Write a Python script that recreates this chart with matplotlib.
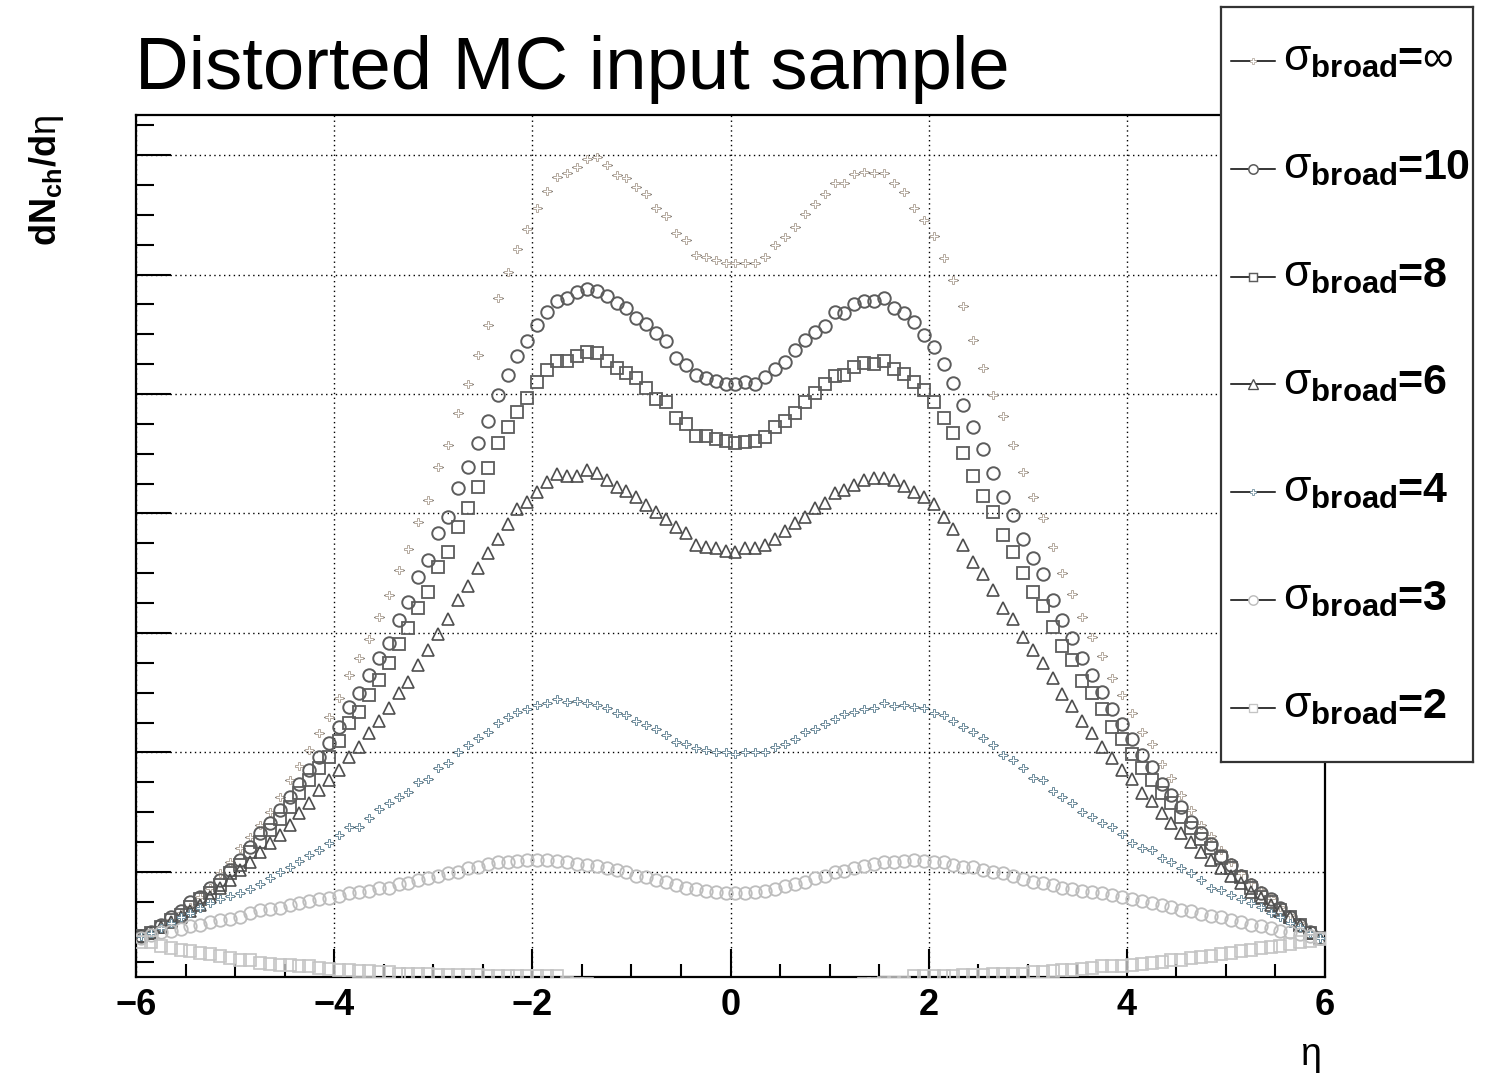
import numpy as np
import matplotlib
matplotlib.use("Agg")
import matplotlib.pyplot as plt
from matplotlib.ticker import MultipleLocator

plt.rcParams['font.family'] = ['Liberation Sans', 'DejaVu Sans']
plt.rcParams['mathtext.fontset'] = 'custom'
plt.rcParams['mathtext.rm'] = 'Liberation Sans'
plt.rcParams['mathtext.bf'] = 'Liberation Sans:bold'
plt.rcParams['mathtext.it'] = 'Liberation Sans:italic'

# 120 eta bins from -6 to 6
eta_edges = np.linspace(-6, 6, 121)
eta = 0.5 * (eta_edges[:-1] + eta_edges[1:])
half_bin = 0.5 * (eta_edges[1] - eta_edges[0])

# dN/deta (arbitrary units, grid lines at 1..7)
sig_inf = [0.46, 0.50, 0.54, 0.60, 0.66, 0.71, 0.79, 0.87, 0.99, 1.08,
           1.20, 1.29, 1.39, 1.50, 1.63, 1.77, 1.89, 2.02, 2.16, 2.30,
           2.46, 2.65, 2.79, 2.95, 3.13, 3.32, 3.53, 3.70, 3.93, 4.11,
           4.39, 4.57, 4.84, 5.08, 5.33, 5.58, 5.80, 6.02, 6.21, 6.38,
           6.56, 6.70, 6.82, 6.85, 6.90, 6.97, 6.98, 6.92, 6.83, 6.81,
           6.73, 6.67, 6.56, 6.49, 6.35, 6.29, 6.16, 6.15, 6.12, 6.10,
           6.10, 6.10, 6.10, 6.15, 6.25, 6.31, 6.40, 6.51, 6.59, 6.67,
           6.77, 6.77, 6.84, 6.86, 6.85, 6.85, 6.77, 6.69, 6.56, 6.46,
           6.32, 6.14, 5.95, 5.74, 5.45, 5.22, 4.99, 4.82, 4.57, 4.35,
           4.14, 3.96, 3.72, 3.50, 3.33, 3.13, 2.97, 2.81, 2.62, 2.48,
           2.33, 2.17, 2.07, 1.90, 1.79, 1.64, 1.52, 1.39, 1.30, 1.18,
           1.08, 0.99, 0.92, 0.85, 0.78, 0.71, 0.64, 0.57, 0.50, 0.45]

sig_10 = [0.46, 0.50, 0.56, 0.62, 0.67, 0.75, 0.79, 0.87, 0.93, 1.02,
          1.10, 1.21, 1.33, 1.41, 1.52, 1.63, 1.74, 1.85, 1.96, 2.08,
          2.21, 2.38, 2.50, 2.65, 2.79, 2.92, 3.11, 3.26, 3.47, 3.61,
          3.84, 3.97, 4.21, 4.39, 4.59, 4.77, 4.99, 5.16, 5.32, 5.44,
          5.58, 5.69, 5.78, 5.80, 5.85, 5.88, 5.86, 5.82, 5.76, 5.72,
          5.64, 5.59, 5.51, 5.44, 5.30, 5.24, 5.16, 5.13, 5.11, 5.08,
          5.08, 5.10, 5.08, 5.14, 5.21, 5.27, 5.37, 5.45, 5.52, 5.57,
          5.69, 5.68, 5.75, 5.78, 5.78, 5.80, 5.72, 5.68, 5.60, 5.49,
          5.39, 5.25, 5.09, 4.91, 4.72, 4.54, 4.34, 4.14, 3.99, 3.79,
          3.63, 3.49, 3.28, 3.11, 2.96, 2.79, 2.65, 2.51, 2.36, 2.24,
          2.11, 1.98, 1.88, 1.74, 1.64, 1.54, 1.42, 1.33, 1.23, 1.13,
          1.06, 0.97, 0.89, 0.82, 0.77, 0.70, 0.62, 0.56, 0.50, 0.45]

sig_8 = [0.46, 0.49, 0.54, 0.60, 0.64, 0.71, 0.77, 0.82, 0.89, 0.99,
         1.06, 1.17, 1.25, 1.35, 1.44, 1.54, 1.66, 1.77, 1.87, 1.96,
         2.10, 2.25, 2.34, 2.48, 2.61, 2.75, 2.91, 3.04, 3.21, 3.34,
         3.55, 3.68, 3.89, 4.05, 4.22, 4.38, 4.59, 4.72, 4.85, 4.97,
         5.10, 5.20, 5.28, 5.28, 5.32, 5.35, 5.34, 5.28, 5.22, 5.18,
         5.13, 5.05, 4.96, 4.93, 4.80, 4.75, 4.65, 4.65, 4.62, 4.61,
         4.59, 4.60, 4.61, 4.64, 4.72, 4.77, 4.84, 4.93, 5.01, 5.08,
         5.15, 5.16, 5.23, 5.26, 5.25, 5.28, 5.21, 5.17, 5.10, 5.03,
         4.93, 4.80, 4.67, 4.51, 4.31, 4.15, 4.01, 3.82, 3.68, 3.50,
         3.34, 3.23, 3.05, 2.89, 2.77, 2.60, 2.50, 2.36, 2.21, 2.11,
         1.99, 1.87, 1.77, 1.66, 1.58, 1.46, 1.37, 1.28, 1.20, 1.12,
         1.03, 0.96, 0.87, 0.79, 0.75, 0.68, 0.62, 0.56, 0.49, 0.45]

sig_6 = [0.46, 0.49, 0.54, 0.58, 0.62, 0.67, 0.72, 0.79, 0.87, 0.93,
         1.02, 1.08, 1.17, 1.24, 1.31, 1.39, 1.49, 1.58, 1.69, 1.77,
         1.85, 1.96, 2.05, 2.16, 2.26, 2.37, 2.50, 2.59, 2.73, 2.86,
         2.99, 3.12, 3.28, 3.39, 3.54, 3.67, 3.79, 3.91, 4.04, 4.10,
         4.18, 4.26, 4.33, 4.31, 4.31, 4.36, 4.34, 4.28, 4.22, 4.19,
         4.14, 4.07, 4.01, 3.95, 3.89, 3.84, 3.74, 3.72, 3.71, 3.69,
         3.68, 3.71, 3.71, 3.74, 3.79, 3.85, 3.92, 3.97, 4.05, 4.09,
         4.17, 4.20, 4.24, 4.28, 4.30, 4.30, 4.28, 4.23, 4.18, 4.14,
         4.08, 3.97, 3.87, 3.74, 3.59, 3.49, 3.36, 3.21, 3.12, 2.97,
         2.86, 2.75, 2.62, 2.49, 2.39, 2.26, 2.16, 2.05, 1.95, 1.85,
         1.78, 1.66, 1.59, 1.49, 1.41, 1.33, 1.25, 1.17, 1.10, 1.03,
         0.97, 0.91, 0.83, 0.78, 0.72, 0.67, 0.62, 0.56, 0.49, 0.45]

sig_4 = [0.46, 0.49, 0.53, 0.57, 0.62, 0.66, 0.70, 0.74, 0.77, 0.80,
         0.82, 0.86, 0.90, 0.95, 1.00, 1.04, 1.09, 1.14, 1.18, 1.24,
         1.31, 1.38, 1.38, 1.45, 1.53, 1.58, 1.63, 1.67, 1.75, 1.78,
         1.87, 1.91, 2.00, 2.06, 2.12, 2.17, 2.25, 2.30, 2.34, 2.36,
         2.40, 2.41, 2.45, 2.42, 2.43, 2.41, 2.40, 2.37, 2.33, 2.31,
         2.26, 2.23, 2.20, 2.15, 2.09, 2.07, 2.04, 2.02, 2.00, 2.00,
         1.99, 2.00, 2.00, 2.00, 2.05, 2.07, 2.11, 2.17, 2.20, 2.24,
         2.28, 2.32, 2.34, 2.36, 2.37, 2.41, 2.39, 2.40, 2.38, 2.37,
         2.33, 2.31, 2.26, 2.21, 2.17, 2.12, 2.06, 1.98, 1.94, 1.87,
         1.79, 1.77, 1.68, 1.63, 1.58, 1.50, 1.46, 1.41, 1.38, 1.32,
         1.24, 1.20, 1.18, 1.12, 1.08, 1.03, 0.99, 0.93, 0.87, 0.85,
         0.81, 0.77, 0.74, 0.71, 0.66, 0.62, 0.57, 0.54, 0.49, 0.45]

sig_3 = [0.45, 0.47, 0.50, 0.51, 0.52, 0.55, 0.56, 0.58, 0.60, 0.61,
         0.62, 0.66, 0.68, 0.69, 0.70, 0.72, 0.74, 0.76, 0.77, 0.78,
         0.80, 0.82, 0.83, 0.84, 0.87, 0.87, 0.90, 0.91, 0.93, 0.95,
         0.97, 0.99, 1.00, 1.03, 1.04, 1.07, 1.08, 1.08, 1.09, 1.10,
         1.10, 1.10, 1.09, 1.08, 1.07, 1.06, 1.05, 1.03, 1.02, 1.00,
         0.97, 0.96, 0.93, 0.92, 0.89, 0.87, 0.86, 0.84, 0.83, 0.82,
         0.82, 0.82, 0.83, 0.84, 0.86, 0.88, 0.90, 0.92, 0.95, 0.97,
         1.00, 1.01, 1.03, 1.05, 1.07, 1.08, 1.08, 1.09, 1.10, 1.09,
         1.08, 1.08, 1.06, 1.04, 1.04, 1.02, 1.00, 0.99, 0.97, 0.94,
         0.92, 0.91, 0.89, 0.87, 0.86, 0.84, 0.83, 0.82, 0.81, 0.79,
         0.77, 0.76, 0.74, 0.72, 0.71, 0.68, 0.67, 0.65, 0.63, 0.62,
         0.60, 0.58, 0.56, 0.55, 0.53, 0.51, 0.50, 0.48, 0.46, 0.45]

# central bins fall below the frame minimum and are not shown
sig_2 = [0.41, 0.41, 0.38, 0.36, 0.35, 0.34, 0.32, 0.31, 0.30, 0.28,
         0.26, 0.26, 0.24, 0.23, 0.22, 0.22, 0.21, 0.21, 0.20, 0.19,
         0.18, 0.18, 0.17, 0.17, 0.16, 0.16, 0.15, 0.15, 0.15, 0.15,
         0.14, 0.14, 0.14, 0.14, 0.14, 0.13, 0.13, 0.13, 0.13, 0.13,
         0.13, 0.13, 0.13, 0.07, 0.06, 0.06, 0.05, 0.05, 0.05, 0.04,
         0.04, 0.04, 0.04, 0.03, 0.03, 0.03, 0.03, 0.03, 0.03, 0.03,
         0.03, 0.03, 0.03, 0.03, 0.03, 0.03, 0.04, 0.04, 0.04, 0.04,
         0.05, 0.05, 0.05, 0.06, 0.06, 0.07, 0.07, 0.07, 0.13, 0.13,
         0.13, 0.13, 0.13, 0.14, 0.14, 0.14, 0.15, 0.15, 0.15, 0.15,
         0.16, 0.16, 0.17, 0.18, 0.18, 0.19, 0.20, 0.21, 0.21, 0.21,
         0.22, 0.23, 0.24, 0.25, 0.26, 0.26, 0.28, 0.29, 0.30, 0.31,
         0.32, 0.34, 0.35, 0.36, 0.37, 0.38, 0.40, 0.41, 0.42, 0.44]

sigma_values = ['\u221e', '10', '8', '6', '4', '3', '2']

series = [
    (sig_inf, dict(marker='P', ms=5.2, mew=0.7, color='#b5aa9f', bars=True)),
    (sig_10, dict(marker='o', ms=9.0, mew=1.4, color='#5c5c5c', bars=False)),
    (sig_8, dict(marker='s', ms=8.6, mew=1.3, color='#5c5c5c', bars=False)),
    (sig_6, dict(marker='^', ms=9.0, mew=1.2, color='#4e4e4e', bars=False)),
    (sig_4, dict(marker='P', ms=5.2, mew=0.7, color='#6d8c9c', bars=True)),
    (sig_3, dict(marker='o', ms=9.0, mew=1.3, color='#bdbdbd', bars=False)),
    (sig_2, dict(marker='s', ms=8.4, mew=1.2, color='#c4c4c4', bars=False)),
]

fig = plt.figure(figsize=(14.86, 10.75), dpi=100)
ax = fig.add_axes([136 / 1486, 98 / 1075, 1189 / 1486, 862 / 1075])

for vals, st in series:
    if st['bars']:
        ax.errorbar(eta, vals, xerr=half_bin, fmt='none', ecolor='black',
                    elinewidth=0.9, capsize=0, zorder=3)
    ax.plot(eta, vals, linestyle='none', marker=st['marker'], ms=st['ms'],
            mew=st['mew'], mec=st['color'],
            mfc='white' if st['bars'] else 'none', zorder=4)

ax.set_xlim(-6, 6)
ax.set_ylim(0.121, 7.335)
ax.set_xticks(np.arange(-6, 7, 2))
ax.set_xticklabels(['\u22126', '\u22124', '\u22122', '0', '2', '4', '6'],
                   fontweight='bold')
ax.xaxis.set_minor_locator(MultipleLocator(0.5))
ax.yaxis.set_major_locator(MultipleLocator(1))
ax.yaxis.set_minor_locator(MultipleLocator(0.25))
ax.tick_params(axis='x', which='major', direction='in', length=20, width=1.5,
               labelsize=26, pad=8, top=False)
ax.tick_params(axis='x', which='minor', direction='in', length=9.5, width=1.5,
               top=False)
ax.tick_params(axis='y', which='major', direction='in', length=25, width=1.5,
               labelleft=False, right=False)
ax.tick_params(axis='y', which='minor', direction='in', length=13, width=1.5,
               right=False)
ax.grid(True, which='major', color='black', linestyle=(0, (1, 2.5)),
        linewidth=1.0, zorder=1)
ax.set_axisbelow(True)
for sp in ax.spines.values():
    sp.set_linewidth(1.6)
    sp.set_color('black')

fig.text(135 / 1486, 1 - 89 / 1075, 'Distorted MC input sample',
         fontsize=53.5, ha='left', va='baseline')
fig.text(47 / 1486, 1 - 115 / 1075, r'$\mathbf{dN_{ch}/d}\mathrm{\eta}$',
         fontsize=26, rotation=90, ha='center', va='top')
fig.text(1310 / 1486, 1 - 1055 / 1075, '\u03b7', fontsize=27,
         ha='center', va='center')

# legend box drawn by hand, ROOT style
lax = fig.add_axes([1221 / 1486, 1 - 762 / 1075, 252 / 1486, 755 / 1075],
                   zorder=10)
lax.set_xlim(0, 252)
lax.set_ylim(755, 0)
lax.set_xticks([])
lax.set_yticks([])
lax.set_facecolor('white')
for sp in lax.spines.values():
    sp.set_linewidth(1.6)
    sp.set_color('#333333')

renderer = fig.canvas.get_renderer()
inv = lax.transData.inverted()
row0, row_step = 54, 107.8
for k, ((vals, st), sv) in enumerate(zip(series, sigma_values)):
    yy = row0 + k * row_step
    lax.plot([10, 54], [yy, yy], color='black', lw=1.1, zorder=2)
    lax.plot([32], [yy], linestyle='none', marker=st['marker'],
             ms=max(st['ms'] * 0.75, 4.5), mew=st['mew'] * 0.8,
             mec=st['color'], mfc='white', zorder=3)
    t1 = lax.text(62, yy + 10, r'$\mathrm{\sigma}_{\mathbf{broad}}$',
                  fontsize=32, ha='left', va='baseline')
    x_end = inv.transform((t1.get_window_extent(renderer).x1, 0))[0]
    t2 = lax.text(x_end, yy + 10, '=', fontsize=31, fontweight='bold',
                  ha='left', va='baseline')
    x_end = inv.transform((t2.get_window_extent(renderer).x1, 0))[0]
    lax.text(x_end, yy + 10, sv, fontsize=31,
             fontweight='normal' if sv == '\u221e' else 'bold',
             ha='left', va='baseline')

fig.savefig('out.png', dpi=100)
